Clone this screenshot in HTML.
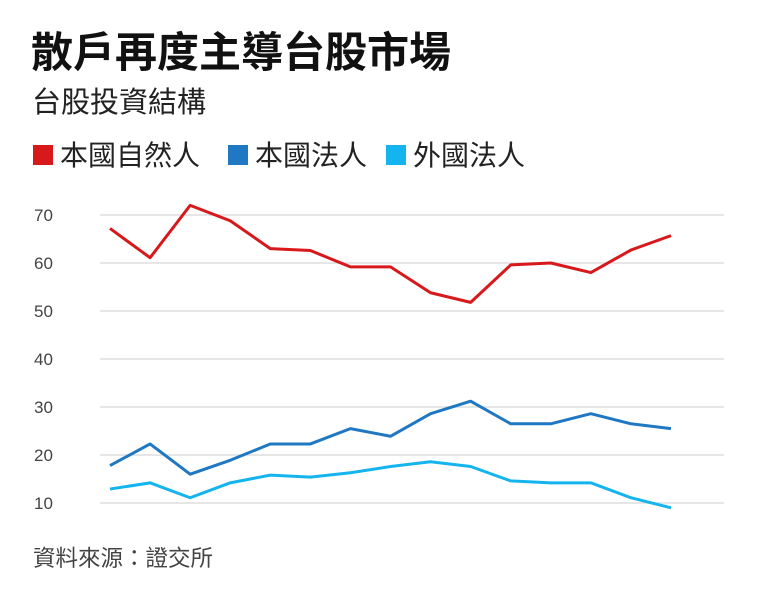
<!DOCTYPE html>
<html><head><meta charset="utf-8"><style>
body{margin:0;background:#fff;font-family:"Liberation Sans","Noto Sans CJK TC",sans-serif;}
#wrap{position:relative;width:757px;height:602px;overflow:hidden;}
.t{position:absolute;white-space:nowrap;line-height:1;}
</style></head><body>
<div id="wrap">
<div class="t" style="left:31px;top:32px;font-size:42px;font-weight:bold;color:#111;">散戶再度主導台股市場</div>
<div class="t" style="left:32px;top:89px;font-size:29px;color:#222;">台股投資結構</div>
<div class="t" style="left:33px;top:142px;font-size:28px;color:#222;"><span style="display:inline-block;width:20px;height:20px;background:#d7191c;vertical-align:0px;margin-right:7px"></span>本國自然人</div>
<div class="t" style="left:228px;top:142px;font-size:28px;color:#222;"><span style="display:inline-block;width:20px;height:20px;background:#1f78c1;vertical-align:0px;margin-right:7px"></span>本國法人</div>
<div class="t" style="left:386px;top:142px;font-size:28px;color:#222;"><span style="display:inline-block;width:20px;height:20px;background:#14b4ee;vertical-align:0px;margin-right:7px"></span>外國法人</div>
<svg id="chart" width="757" height="602" style="position:absolute;left:0;top:0"></svg>
<div class="t" style="left:33px;top:548px;font-size:22.5px;color:#444;">資料來源：證交所</div>
</div>
<script>
const yTicks=[10,20,30,40,50,60,70];
const individual=[67.2,61.1,72,68.8,63,62.6,59.2,59.2,53.8,51.8,59.6,60,58,62.7,65.7];
const domestic=[17.8,22.3,16,18.9,22.3,22.3,25.5,23.9,28.6,31.2,26.5,26.5,28.6,26.5,25.5];
const foreign=[12.9,14.2,11.1,14.2,15.8,15.4,16.3,17.6,18.6,17.6,14.6,14.2,14.2,11.1,9.0];
const svg=document.getElementById('chart');
const NS='http://www.w3.org/2000/svg';
function y(v){return 503-(v-10)*4.8;}
function x(i){return 110+i*(671-110)/(individual.length-1);}
yTicks.forEach(t=>{
 const l=document.createElementNS(NS,'line');
 l.setAttribute('x1',100);l.setAttribute('x2',724);l.setAttribute('y1',y(t));l.setAttribute('y2',y(t));
 l.setAttribute('stroke','#ddd');l.setAttribute('stroke-width','1.5');
 
 
 svg.appendChild(l);
 const tx=document.createElementNS(NS,'text');
 tx.setAttribute('x',34);tx.setAttribute('y',y(t)+6);tx.setAttribute('font-size','17');tx.setAttribute('fill','#444');
 tx.setAttribute('font-family','Liberation Sans, sans-serif');
 tx.textContent=t;
 
 
 svg.appendChild(tx);
});
function line(d,c,n){
 const p=document.createElementNS(NS,'polyline');
 p.setAttribute('points',d.map((v,i)=>x(i)+','+y(v)).join(' '));
 p.setAttribute('fill','none');p.setAttribute('stroke',c);p.setAttribute('stroke-width','3');p.setAttribute('stroke-linejoin','round');
 
 
 svg.appendChild(p);
}
line(foreign,'#14b4ee','series-foreign-institution');
line(domestic,'#1f78c1','series-domestic-institution');
line(individual,'#d7191c','series-domestic-individual');
</script>
</body></html>
